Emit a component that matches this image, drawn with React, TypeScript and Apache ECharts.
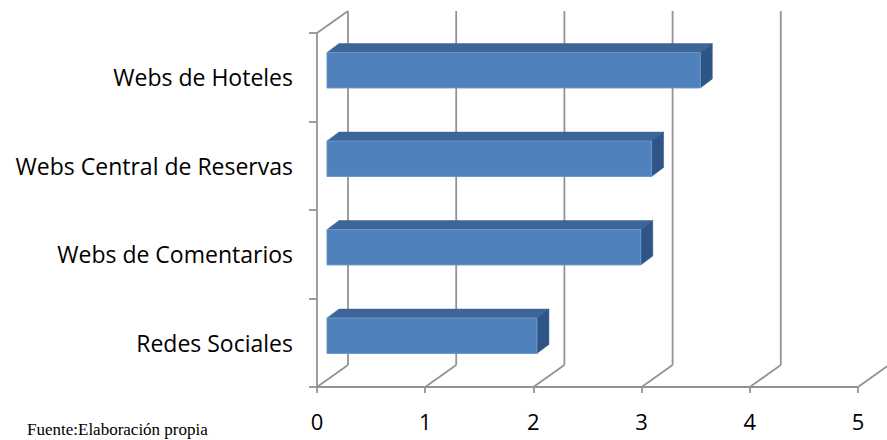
import React, { useEffect, useRef } from "react";
import * as echarts from "echarts";

const categories = [
  "Webs de Hoteles",
  "Webs Central de Reservas",
  "Webs de Comentarios",
  "Redes Sociales",
];
const values = [3.45, 3.0, 2.9, 1.94];
const xTicks = [0, 1, 2, 3, 4, 5];
const sourceNote = "Fuente:Elaboración propia";

const GRID_COLOR = "#939393";
const LINE_W = 1.8;
const DEPTH_X = 31;
const DEPTH_Y = -22;

export default function App() {
  const ref = useRef<HTMLDivElement>(null);
  useEffect(() => {
    document.body.style.margin = "0";
    if (!ref.current) return;
    const chart = echarts.init(ref.current, undefined, { renderer: "svg" });
    const option: any = {
      animation: false,
      backgroundColor: "#ffffff",
      grid: { left: 317, right: 29, top: 33, bottom: 53, containLabel: false },
      xAxis: {
        type: "value",
        min: 0,
        max: 5,
        interval: 1,
        axisLine: { show: true, lineStyle: { color: GRID_COLOR, width: LINE_W } },
        axisTick: { show: true, length: 6, lineStyle: { color: GRID_COLOR, width: LINE_W } },
        splitLine: { show: false },
        axisLabel: {
          color: "#000",
          fontSize: 22,
          fontFamily: "Open Sans",
          margin: 23,
        },
      },
      yAxis: {
        type: "category",
        inverse: true,
        data: categories,
        axisLine: { show: true, lineStyle: { color: GRID_COLOR, width: LINE_W } },
        axisTick: { show: true, length: 8, lineStyle: { color: GRID_COLOR, width: LINE_W } },
        axisLabel: {
          color: "#000",
          fontSize: 23,
          fontFamily: "Open Sans",
          margin: 24,
        },
      },
      graphic: [
        {
          type: "text",
          left: 27,
          top: 421,
          style: {
            text: sourceNote,
            font: '17px "Liberation Serif"',
            fill: "#000",
          },
        },
      ],
      series: [
        {
          type: "custom",
          name: "grid3d",
          silent: true,
          z: 1,
          data: xTicks.map((t) => [t]),
          encode: { x: 0 },
          renderItem: (params: any, api: any) => {
            const v = api.value(0);
            const cs = params.coordSys;
            const bottom = cs.y + cs.height;
            const top = cs.y;
            const x = api.coord([v, 0])[0];
            const children: any[] = [
              {
                type: "line",
                shape: { x1: x, y1: bottom, x2: x + DEPTH_X, y2: bottom + DEPTH_Y },
                style: { stroke: GRID_COLOR, lineWidth: LINE_W },
              },
              {
                type: "line",
                shape: { x1: x + DEPTH_X, y1: bottom + DEPTH_Y, x2: x + DEPTH_X, y2: top + DEPTH_Y },
                style: { stroke: GRID_COLOR, lineWidth: LINE_W },
              },
            ];
            if (v === 0) {
              children.push({
                type: "line",
                shape: { x1: x, y1: top, x2: x + DEPTH_X, y2: top + DEPTH_Y },
                style: { stroke: GRID_COLOR, lineWidth: LINE_W },
              });
            }
            return { type: "group", children };
          },
        },
        {
          type: "custom",
          name: "bars",
          z: 2,
          data: values.map((v, i) => [v, i]),
          encode: { x: 0, y: 1 },
          renderItem: (params: any, api: any) => {
            const v = api.value(0);
            const idx = api.value(1);
            const start = api.coord([0, idx]);
            const end = api.coord([v, idx]);
            const band = api.size([0, 1])[1];
            const h = band * 0.4;
            const ox = 10;
            const oy = -7;
            const dx = 12;
            const dy = -9;
            const x = start[0] + ox;
            const y = start[1] + oy - h / 2;
            const w = end[0] - start[0];
            return {
              type: "group",
              children: [
                {
                  type: "polygon",
                  shape: {
                    points: [
                      [x, y],
                      [x + w, y],
                      [x + w + dx, y + dy],
                      [x + dx, y + dy],
                    ],
                  },
                  style: { fill: "#3c6598", stroke: "#3c6598", lineWidth: 0.5 },
                },
                {
                  type: "polygon",
                  shape: {
                    points: [
                      [x + w, y],
                      [x + w + dx, y + dy],
                      [x + w + dx, y + h + dy],
                      [x + w, y + h],
                    ],
                  },
                  style: { fill: "#2f5586", stroke: "#2f5586", lineWidth: 0.5 },
                },
                {
                  type: "rect",
                  shape: { x, y, width: w, height: h },
                  style: { fill: "#4f81bd", stroke: "#6a96c9", lineWidth: 1 },
                },
              ],
            };
          },
        },
      ],
    };
    chart.setOption(option);
    return () => chart.dispose();
  }, []);
  return <div ref={ref} style={{ width: 887, height: 440 }} />;
}
